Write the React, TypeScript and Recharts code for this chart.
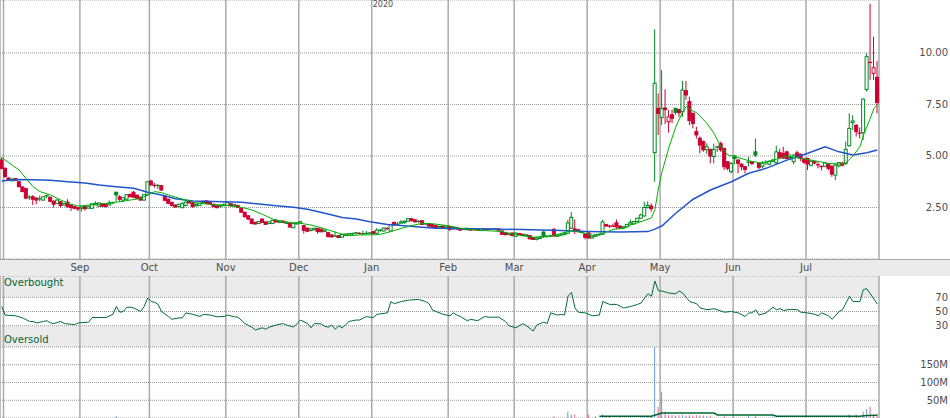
import React from 'react';
import { ComposedChart, Bar, Line, XAxis, YAxis, CartesianGrid, ReferenceLine } from 'recharts';

type Candle = [number, number, number, number]; // open, high, low, close

const jul2019: Candle[] = [[4.8, 4.92, 4.35, 4.4]];
const aug2019: Candle[] = [
  [4.4, 4.45, 3.95, 4.0], [3.93, 3.96, 3.8, 3.86], [3.8, 3.9, 3.76, 3.88], [3.9, 3.92, 3.78, 3.81],
  [3.75, 3.78, 3.48, 3.51], [3.5, 3.52, 3.25, 3.27], [3.42, 3.45, 2.9, 2.95], [2.98, 3.1, 2.86, 3.02],
  [3.02, 3.1, 2.62, 2.9], [2.96, 2.98, 2.66, 2.86], [2.9, 3.08, 2.8, 2.94], [2.86, 3.05, 2.84, 3.02],
  [3.1, 3.12, 2.95, 3.05], [3.0, 3.02, 2.76, 2.8], [2.8, 2.85, 2.5, 2.66], [2.7, 2.9, 2.68, 2.86],
  [2.78, 2.8, 2.5, 2.6], [2.62, 2.72, 2.6, 2.7], [2.76, 2.9, 2.5, 2.54], [2.62, 2.65, 2.33, 2.5],
  [2.54, 2.56, 2.42, 2.46], [2.49, 2.5, 2.33, 2.43],
];
const sep2019: Candle[] = [
  [2.46, 2.55, 2.3, 2.52], [2.55, 2.56, 2.35, 2.44], [2.47, 2.58, 2.45, 2.56], [2.46, 2.7, 2.44, 2.68],
  [2.64, 2.8, 2.6, 2.7], [2.56, 2.74, 2.54, 2.72], [2.68, 2.7, 2.55, 2.56], [2.66, 2.68, 2.5, 2.55],
  [2.62, 2.84, 2.6, 2.7], [2.74, 2.78, 2.66, 2.72], [3.24, 3.26, 2.78, 3.11], [3.02, 3.1, 2.78, 2.9],
  [2.86, 3.0, 2.75, 2.98], [2.9, 3.14, 2.88, 3.12], [3.14, 3.16, 3.0, 3.02], [3.24, 3.3, 2.98, 3.0],
  [3.1, 3.12, 2.9, 2.94], [3.0, 3.02, 2.84, 2.86], [2.86, 3.14, 2.84, 3.12], [3.11, 3.78, 3.05, 3.75],
];
const oct2019: Candle[] = [
  [3.78, 3.85, 3.55, 3.6], [3.6, 3.7, 3.45, 3.55], [3.55, 3.64, 3.4, 3.58], [3.56, 3.6, 3.3, 3.35],
  [3.05, 3.1, 2.8, 2.85], [2.9, 2.92, 2.68, 2.7], [2.75, 2.78, 2.55, 2.6], [2.62, 2.64, 2.5, 2.52],
  [2.55, 2.68, 2.5, 2.66], [2.49, 2.78, 2.47, 2.68], [2.6, 2.8, 2.55, 2.76], [2.82, 2.86, 2.7, 2.72],
  [2.72, 2.78, 2.49, 2.54], [2.58, 2.72, 2.56, 2.64], [2.6, 2.8, 2.58, 2.78], [2.74, 2.82, 2.7, 2.8],
  [2.82, 2.86, 2.66, 2.7], [2.76, 2.8, 2.62, 2.68], [2.66, 2.68, 2.52, 2.54], [2.58, 2.6, 2.46, 2.49],
  [2.54, 2.62, 2.5, 2.6], [2.6, 2.72, 2.55, 2.62],
];
const nov2019: Candle[] = [
  [2.6, 2.82, 2.58, 2.74], [2.68, 2.7, 2.55, 2.58], [2.58, 2.68, 2.56, 2.64], [2.6, 2.62, 2.48, 2.5],
  [2.46, 2.48, 2.25, 2.27], [2.27, 2.3, 2.0, 2.06], [2.1, 2.12, 1.9, 1.94], [1.94, 1.96, 1.68, 1.73],
  [1.78, 1.8, 1.66, 1.7], [1.72, 1.84, 1.7, 1.82], [1.94, 1.96, 1.76, 1.78], [1.8, 1.82, 1.66, 1.68],
  [1.72, 1.82, 1.7, 1.8], [1.72, 1.9, 1.7, 1.88], [1.88, 1.9, 1.78, 1.8], [1.78, 1.86, 1.74, 1.84],
  [1.84, 1.88, 1.76, 1.78], [1.72, 1.8, 1.7, 1.79], [1.72, 1.74, 1.52, 1.55], [1.52, 1.75, 1.5, 1.73],
  [1.7, 1.8, 1.68, 1.76],
];
const dec2019: Candle[] = [
  [1.74, 1.84, 1.72, 1.81], [1.62, 1.64, 1.23, 1.39], [1.5, 1.52, 1.3, 1.35], [1.38, 1.5, 1.34, 1.46],
  [1.42, 1.52, 1.38, 1.49], [1.49, 1.5, 1.23, 1.33], [1.45, 1.47, 1.3, 1.32], [1.34, 1.42, 1.3, 1.4],
  [1.29, 1.3, 1.04, 1.09], [1.17, 1.18, 1.05, 1.07], [1.1, 1.33, 1.07, 1.12], [1.13, 1.14, 1.02, 1.04],
  [1.06, 1.2, 1.04, 1.19], [1.15, 1.22, 1.1, 1.21], [1.16, 1.26, 1.13, 1.23], [1.2, 1.28, 1.15, 1.25],
  [1.28, 1.3, 1.18, 1.26], [1.26, 1.3, 1.2, 1.22], [1.2, 1.38, 1.18, 1.24], [1.22, 1.36, 1.2, 1.26],
  [1.24, 1.3, 1.2, 1.28],
];
const jan2020: Candle[] = [
  [1.33, 1.35, 1.2, 1.24], [1.25, 1.5, 1.2, 1.4], [1.38, 1.45, 1.3, 1.42], [1.36, 1.52, 1.34, 1.5],
  [1.5, 1.54, 1.4, 1.46], [1.36, 1.7, 1.34, 1.68], [1.78, 1.8, 1.64, 1.65], [1.68, 1.8, 1.64, 1.7],
  [1.74, 1.9, 1.72, 1.8], [1.76, 1.88, 1.72, 1.82], [1.84, 1.98, 1.82, 1.96], [1.96, 1.99, 1.82, 1.86],
  [1.9, 1.94, 1.78, 1.8], [1.8, 1.88, 1.76, 1.85], [1.86, 1.88, 1.65, 1.68], [1.68, 1.76, 1.64, 1.73],
  [1.72, 1.74, 1.56, 1.6], [1.68, 1.7, 1.5, 1.55], [1.62, 1.64, 1.45, 1.5], [1.52, 1.62, 1.5, 1.58],
  [1.6, 1.62, 1.5, 1.54], [1.52, 1.62, 1.48, 1.6],
];
const feb2020: Candle[] = [
  [1.58, 1.6, 1.36, 1.44], [1.46, 1.56, 1.44, 1.52], [1.52, 1.54, 1.42, 1.46], [1.48, 1.5, 1.38, 1.4],
  [1.42, 1.5, 1.4, 1.46], [1.42, 1.5, 1.4, 1.49], [1.48, 1.5, 1.38, 1.4], [1.4, 1.48, 1.38, 1.45],
  [1.46, 1.48, 1.36, 1.4], [1.38, 1.49, 1.36, 1.47], [1.44, 1.5, 1.42, 1.48], [1.47, 1.5, 1.38, 1.42],
  [1.42, 1.48, 1.4, 1.46], [1.44, 1.5, 1.4, 1.48], [1.46, 1.48, 1.38, 1.4], [1.36, 1.38, 1.18, 1.2],
  [1.28, 1.3, 1.14, 1.18], [1.18, 1.28, 1.16, 1.24], [1.26, 1.28, 1.1, 1.14],
];
const mar2020: Candle[] = [
  [1.1, 1.28, 1.08, 1.26], [1.24, 1.26, 1.16, 1.18], [1.2, 1.22, 1.1, 1.14], [1.12, 1.2, 1.1, 1.18],
  [1.14, 1.16, 0.95, 0.98], [1.04, 1.06, 0.92, 0.95], [0.95, 1.08, 0.9, 1.02], [1.0, 1.1, 0.96, 1.06],
  [1.31, 1.34, 1.02, 1.1], [1.08, 1.16, 1.04, 1.12], [1.1, 1.18, 1.06, 1.14], [1.44, 1.5, 1.06, 1.12],
  [1.1, 1.2, 1.08, 1.16], [1.14, 1.22, 1.12, 1.18], [1.18, 1.26, 1.16, 1.25], [1.25, 1.9, 1.2, 1.75],
  [1.5, 2.28, 1.45, 2.02], [1.46, 1.92, 1.2, 1.36], [1.42, 1.44, 1.3, 1.34], [1.34, 1.36, 1.26, 1.28],
  [1.21, 1.24, 0.95, 1.05],
];
const apr2020: Candle[] = [
  [1.26, 1.3, 0.98, 1.02], [1.02, 1.14, 1.0, 1.1], [1.1, 1.2, 1.08, 1.16], [1.16, 1.24, 1.12, 1.2],
  [1.2, 1.9, 1.18, 1.8], [1.68, 1.7, 1.56, 1.6], [1.62, 1.66, 1.5, 1.58], [1.62, 1.72, 1.56, 1.57],
  [1.76, 1.92, 1.44, 1.56], [1.6, 1.62, 1.45, 1.5], [1.5, 1.6, 1.48, 1.56], [1.56, 1.7, 1.54, 1.68],
  [1.7, 1.92, 1.66, 1.78], [1.7, 1.85, 1.68, 1.82], [1.82, 2.0, 1.8, 1.98], [1.98, 2.2, 1.95, 2.14],
  [2.09, 2.78, 2.05, 2.5], [2.5, 2.8, 2.45, 2.6], [2.57, 2.7, 2.3, 2.44], [5.16, 11.15, 3.75, 8.53],
  [7.31, 8.04, 6.02, 7.07],
];
const may2020: Candle[] = [
  [6.87, 9.17, 6.5, 7.31], [7.33, 8.23, 6.55, 7.25], [6.66, 7.23, 6.13, 6.9], [7.0, 7.25, 6.6, 6.83],
  [7.31, 7.35, 7.0, 7.12], [7.25, 7.3, 6.9, 7.1], [7.15, 8.64, 6.9, 8.2], [8.17, 8.64, 7.72, 7.96],
  [7.64, 7.88, 6.5, 6.72], [7.07, 7.1, 6.34, 6.58], [6.18, 6.42, 5.85, 6.02], [5.86, 5.95, 5.13, 5.53],
  [5.7, 5.75, 5.2, 5.3], [5.3, 5.62, 5.1, 5.45], [5.32, 5.36, 4.64, 5.0], [4.97, 5.6, 4.64, 5.32],
  [5.42, 5.5, 5.2, 5.45], [5.6, 5.7, 5.2, 5.3], [5.37, 5.4, 4.32, 4.48], [4.72, 4.75, 4.3, 4.4],
  [4.24, 4.7, 4.15, 4.64],
];
const jun2020: Candle[] = [
  [5.0, 5.05, 4.6, 4.88], [4.8, 4.85, 4.16, 4.64], [4.6, 4.65, 4.3, 4.48], [4.48, 4.5, 4.15, 4.35],
  [4.68, 4.96, 4.5, 4.72], [4.72, 4.75, 4.55, 4.64], [5.2, 5.85, 4.95, 5.05], [4.64, 4.7, 4.35, 4.45],
  [4.5, 4.75, 4.4, 4.66], [4.7, 4.8, 4.55, 4.68], [4.6, 4.8, 4.55, 4.74], [4.74, 4.85, 4.7, 4.8],
  [4.67, 5.5, 4.6, 5.2], [5.16, 5.35, 4.85, 4.93], [5.12, 5.45, 4.85, 4.9], [5.2, 5.25, 4.85, 4.87],
  [4.95, 5.1, 4.8, 4.9], [4.72, 5.1, 4.6, 5.04], [5.15, 5.25, 4.9, 4.97], [5.08, 5.12, 4.75, 4.88],
  [4.85, 4.9, 4.6, 4.7],
];
const jul2020: Candle[] = [
  [4.88, 4.92, 4.32, 4.61], [4.55, 4.8, 4.5, 4.75], [4.72, 4.76, 4.6, 4.66], [4.58, 4.72, 4.4, 4.56],
  [4.5, 4.55, 4.3, 4.47], [4.5, 4.7, 4.45, 4.66], [4.6, 4.65, 4.3, 4.4], [4.5, 4.55, 3.99, 4.12],
  [4.07, 4.62, 3.83, 4.56], [4.52, 4.7, 4.45, 4.68], [4.65, 4.72, 4.5, 4.55], [4.64, 5.7, 4.56, 5.32],
  [5.5, 7.07, 5.45, 6.34], [6.62, 6.98, 6.26, 6.7], [6.49, 6.55, 5.94, 6.18], [6.13, 6.38, 5.85, 6.08],
  [6.13, 7.8, 5.77, 7.76], [8.23, 9.98, 8.12, 9.82], [9.56, 12.38, 8.69, 9.52], [9.01, 10.79, 8.69, 9.28],
  [8.82, 9.61, 7.07, 7.59],
];

const months: { label: string; candles: Candle[] }[] = [
  { label: '', candles: jul2019 },
  { label: '', candles: aug2019 },
  { label: 'Sep', candles: sep2019 },
  { label: 'Oct', candles: oct2019 },
  { label: 'Nov', candles: nov2019 },
  { label: 'Dec', candles: dec2019 },
  { label: 'Jan', candles: jan2020 },
  { label: 'Feb', candles: feb2020 },
  { label: 'Mar', candles: mar2020 },
  { label: 'Apr', candles: apr2020 },
  { label: 'May', candles: may2020 },
  { label: 'Jun', candles: jun2020 },
  { label: 'Jul', candles: jul2020 },
];

const yearLabel = '2020';
const priceTicks = [2.5, 5, 7.5, 10];
const rsiTicks = [30, 50, 70];
const volumeTicks = [50, 100, 150];

// [trading-day index, value]
const shortMA: [number, number][] = [
  [0, 4.92], [3, 4.56], [5, 4.32], [7, 3.91], [9, 3.51], [11, 3.27], [14, 3.11], [17, 2.86], [20, 2.65],
  [22, 2.57], [25, 2.62], [28, 2.65], [31, 2.73], [34, 2.78], [37, 2.86], [40, 2.94], [42, 3.11], [44, 3.27],
  [46, 3.22], [48, 3.11], [50, 3.0], [53, 2.86], [56, 2.72], [60, 2.65], [64, 2.62], [69, 2.51], [72, 2.38],
  [75, 2.17], [78, 1.94], [81, 1.81], [84, 1.76], [86, 1.73], [89, 1.65], [92, 1.52], [94, 1.41], [97, 1.25],
  [100, 1.13], [103, 1.17], [107, 1.17], [109, 1.2], [112, 1.33], [115, 1.49], [118, 1.62], [121, 1.73],
  [124, 1.71], [127, 1.65], [130, 1.57], [132, 1.49], [135, 1.44], [138, 1.39], [141, 1.36], [144, 1.33],
  [147, 1.21], [150, 1.13], [153, 1.06], [157, 1.08], [161, 1.24], [164, 1.37], [167, 1.28], [170, 1.16],
  [173, 1.24], [176, 1.44], [179, 1.49], [181, 1.65], [184, 1.81], [187, 2.0], [188, 2.4], [189, 3.4],
  [190, 4.2], [192, 5.4], [194, 6.4], [196, 7.15], [197, 7.4], [198, 7.26], [200, 7.1], [203, 6.58],
  [205, 6.1], [207, 5.45], [209, 5.05], [211, 4.97], [215, 4.77], [219, 4.64], [223, 4.84], [226, 5.0],
  [230, 4.88], [234, 4.77], [238, 4.64], [242, 4.6], [243, 4.67], [245, 5.0], [247, 5.45], [248, 6.0],
  [250, 6.83], [251, 7.3], [252, 7.5],
];
const longMA: [number, number][] = [
  [0, 3.78], [4, 3.86], [9, 3.85], [14, 3.82], [19, 3.75], [24, 3.69], [28, 3.59], [33, 3.51], [38, 3.43],
  [42, 3.24], [46, 3.11], [50, 2.92], [55, 2.82], [64, 2.78], [69, 2.75], [74, 2.67], [79, 2.59], [84, 2.51],
  [88, 2.41], [93, 2.22], [98, 2.01], [102, 1.94], [106, 1.81], [111, 1.68], [115, 1.62], [121, 1.54],
  [125, 1.49], [131, 1.48], [140, 1.45], [150, 1.43], [155, 1.41], [159, 1.4], [168, 1.34], [178, 1.31],
  [186, 1.33], [188, 1.45], [190, 1.6], [194, 2.22], [199, 2.9], [204, 3.35], [210, 3.75], [215, 4.16],
  [220, 4.4], [226, 4.8], [232, 5.13], [237, 5.45], [241, 5.2], [245, 5.05], [249, 5.16], [252, 5.29],
];
const rsiPoints: [number, number][] = [
  [0, 57], [1, 45], [4, 44], [6, 41], [8, 36], [9, 36], [10, 34], [12, 36], [13, 37], [14, 34], [15, 33],
  [17, 36], [18, 33], [20, 32], [21, 31.5], [22, 34], [25, 35], [26, 41.5], [28, 41.5], [30, 41.5], [32, 46],
  [33, 57], [34, 49], [35, 50], [36, 56], [37, 56], [38, 55], [40, 50], [41, 57], [42, 69], [43, 64], [44, 63],
  [45, 60], [46, 50], [48, 43], [49, 39], [51, 41], [52, 41], [53, 48], [55, 46], [57, 43], [58, 46], [60, 45],
  [62, 42.5], [64, 43], [65, 45], [67, 42.5], [68, 42], [70, 33], [72, 28], [73, 24], [75, 27], [76, 25],
  [77, 28], [79, 31], [81, 33], [82, 31], [84, 28], [86, 38], [88, 33], [89, 27], [90, 33], [92, 32.5],
  [93, 29], [94, 28], [95, 31], [96, 25], [97, 30], [98, 27], [100, 36], [102, 38], [103, 38], [105, 43],
  [106, 42], [107, 41.5], [108, 46], [111, 48], [112, 64], [113, 61], [115, 64], [117, 66], [120, 67],
  [122, 64], [123, 61], [124, 52], [125, 50], [127, 46], [129, 44], [130, 48], [131, 45], [132, 43],
  [134, 37], [135, 39], [137, 37], [139, 43], [140, 42], [143, 42], [145, 36], [146, 30], [148, 27],
  [150, 33], [151, 30], [153, 22.5], [154, 31], [156, 35], [157, 33], [158, 48], [160, 45], [161, 46],
  [162, 45], [163, 72], [164, 77], [165, 55], [166, 49], [168, 48], [170, 44], [172, 45], [173, 64],
  [175, 60], [177, 60], [179, 55], [181, 57], [183, 60], [184, 62], [186, 75], [187, 71.5], [188, 93],
  [189, 79], [190, 79], [192, 76], [194, 75], [195, 79], [196, 76], [198, 64], [200, 61], [201, 55],
  [203, 52.5], [205, 54], [208, 49], [210, 50], [212, 48], [214, 43], [215, 48], [216, 48], [217, 52.5],
  [218, 45], [220, 48], [222, 56], [223, 52.5], [224, 54], [225, 51.5], [227, 53], [229, 52.5], [230, 49],
  [232, 48], [234, 46], [235, 44], [236, 48], [238, 44], [239, 39], [241, 50], [242, 52.5], [244, 71.5],
  [245, 64], [247, 64], [248, 81], [249, 82], [250, 75], [252, 60.6],
];
// volume in millions
const volumes: [number, number][] = [
  [33, 6], [159, 5], [163, 18], [164, 10], [165, 10], [169, 10], [171, 5], [173, 10], [174, 4], [175, 3],
  [178, 3], [181, 3], [184, 4], [185, 5], [186, 6], [187, 5], [188, 210], [189, 32], [190, 74], [191, 18],
  [192, 9], [193, 8], [194, 7], [195, 8], [196, 8], [197, 7], [198, 8], [199, 7], [200, 8], [201, 7],
  [202, 7], [203, 6], [204, 7], [208, 5], [215, 5], [217, 5], [222, 4], [244, 10], [246, 10], [248, 18],
  [249, 25], [250, 32], [251, 10], [252, 12],
];
const volumeMA: [number, number][] = [
  [172, 4.8], [187, 4.8], [190, 14], [205, 14], [206, 8.5], [222, 8.5], [223, 4.8], [247, 4.8], [249, 7], [252, 8],
];

// ---------- derived table ----------
const candles: Candle[] = months.flatMap((m) => m.candles);
const N = candles.length;
const sMap = new Map(shortMA);
const lMap = new Map(longMA);
const rMap = new Map(rsiPoints);
const vMap = new Map(volumes);
const vmMap = new Map(volumeMA);

const data = candles.map(([o, h, l, c], i) => ({
  i,
  o,
  h,
  l,
  c,
  range: [l, h],
  up: i > 0 && c >= candles[i - 1][3],
  maS: sMap.get(i) ?? null,
  maL: lMap.get(i) ?? null,
  rsi: rMap.get(i) ?? null,
  vol: vMap.get(i) ?? null,
  volMA: vmMap.get(i) ?? null,
}));

const boundaries: { value: number; label: string }[] = [];
{
  let start = 0;
  months.forEach((m, k) => {
    if (k > 0) boundaries.push({ value: start - 0.5, label: m.label });
    start += m.candles.length;
  });
}
const monthTicks = boundaries.map((b) => b.value);
const priceXTicks = [...monthTicks, N - 0.5];
const labelOf = new Map(boundaries.map((b) => [b.value, b.label] as [number, string]));
const janBoundary = boundaries.find((b) => b.label === 'Jan')!.value;
const xDomain: [number, number] = [-0.5, N - 0.5];

// ---------- styles ----------
const FONT = '"DejaVu Sans", Verdana, sans-serif';
const W = 950;
const AXIS_W = 71;
const BAND = '#ebebeb';
const RED = '#cc0033';
const GREEN = '#00881e';
const VOL_UP = '#6f9bd1';
const VOL_DOWN = '#e2688a';
const GRID_V = '#aaaaaa';
const GRID_H = '#999999';
const TEXT = '#4d4d4d';
const RSI_GREEN = '#006b3c';

const makeRightTick = (fmt: (v: number) => string) => (props: any) => (
  <text x={W - 2} y={props.y} textAnchor="end" dominantBaseline="central" fontSize={10} fontFamily={FONT} fill={TEXT}>
    {fmt(props.payload.value)}
  </text>
);

const CandleShape = (props: any) => {
  const { x, y, width, height, payload } = props;
  if (payload == null || x == null || y == null) return null;
  const { o, h, l, c, up } = payload;
  const cx = x + width / 2;
  const span = h - l;
  const py = (v: number) => (span > 0 ? y + ((h - v) / span) * height : y);
  const color = up ? GREEN : RED;
  const top = py(Math.max(o, c));
  const bot = py(Math.min(o, c));
  const hollow = c > o;
  return (
    <g>
      <line x1={cx} x2={cx} y1={y} y2={y + height} stroke={color} strokeWidth={1} />
      {bot - top < 1.2 ? (
        <line x1={cx - 2} x2={cx + 2} y1={(top + bot) / 2} y2={(top + bot) / 2} stroke={color} strokeWidth={1.3} />
      ) : (
        <rect x={cx - 1.5} y={top} width={3} height={bot - top} fill={hollow ? '#ffffff' : color} stroke={color} strokeWidth={1} />
      )}
    </g>
  );
};

const VolumeShape = (props: any) => {
  const { x, y, width, height, payload } = props;
  if (payload == null || !height || height <= 0) return null;
  return <rect x={x + width / 2 - 0.5} y={y} width={1} height={height} fill={payload.up ? VOL_UP : VOL_DOWN} />;
};

const margin = { top: 0, right: 0, bottom: 0, left: 0 };

export default function App() {
  return (
    <div style={{ position: 'absolute', left: 0, top: 0, width: W, height: 418, overflow: 'hidden', background: '#fff', fontFamily: FONT }}>
      {/* date label band */}
      <div style={{ position: 'absolute', left: 0, top: 259, width: W, height: 17, background: BAND, borderTop: '1px solid #aaaaaa', boxSizing: 'border-box' }} />

      {/* price panel */}
      <div style={{ position: 'absolute', left: 0, top: 0 }}>
        <ComposedChart width={W} height={276} data={data} margin={margin}>
          <CartesianGrid horizontal={false} stroke={GRID_V} strokeWidth={1.5} />
          <CartesianGrid vertical={false} stroke={GRID_H} strokeDasharray="1 1" />
          <XAxis
            dataKey="i"
            type="number"
            domain={xDomain}
            ticks={priceXTicks}
            interval={0}
            height={17}
            axisLine={false}
            tickLine={false}
            tickSize={0}
            tickMargin={5}
            allowDataOverflow
            tickFormatter={(v: number) => labelOf.get(v) ?? ''}
            tick={{ fontSize: 10, fill: TEXT, fontFamily: FONT }}
          />
          <YAxis
            orientation="right"
            width={AXIS_W}
            domain={[0, 12.57]}
            ticks={priceTicks}
            interval={0}
            axisLine={false}
            tickLine={false}
            allowDataOverflow
            tick={makeRightTick((v) => v.toFixed(2))}
          />
          <ReferenceLine
            x={janBoundary}
            stroke="none"
            label={{ value: yearLabel, position: 'insideTopLeft', offset: 1, fontSize: 8, fill: TEXT, fontFamily: FONT }}
          />
          <Line dataKey="maL" stroke="#2255cc" strokeWidth={1.5} dot={false} activeDot={false} connectNulls isAnimationActive={false} />
          <Line dataKey="maS" stroke="#00b000" strokeWidth={1} dot={false} activeDot={false} connectNulls isAnimationActive={false} />
          <Bar dataKey="range" barSize={3} shape={CandleShape} isAnimationActive={false} />
        </ComposedChart>
      </div>

      {/* RSI panel */}
      <div style={{ position: 'absolute', left: 0, top: 276 }}>
        <ComposedChart width={W} height={71} data={data} margin={margin}>
          <CartesianGrid
            vertical={false}
            stroke={GRID_H}
            strokeDasharray="1 1"
            horizontalFill={[BAND, 'transparent', 'transparent', BAND]}
          />
          <CartesianGrid horizontal={false} stroke={GRID_V} strokeWidth={1.5} />
          <XAxis dataKey="i" type="number" domain={xDomain} ticks={monthTicks} interval={0} hide allowDataOverflow />
          <YAxis
            orientation="right"
            width={AXIS_W}
            domain={[0, 100]}
            ticks={rsiTicks}
            interval={0}
            axisLine={false}
            tickLine={false}
            tick={makeRightTick((v) => String(v))}
          />
          <Line dataKey="rsi" stroke={RSI_GREEN} strokeWidth={1} dot={false} activeDot={false} connectNulls isAnimationActive={false} />
        </ComposedChart>
      </div>
      <div style={{ position: 'absolute', left: 4, top: 277, fontSize: 10, lineHeight: '12px', color: '#006633', fontFamily: FONT }}>Overbought</div>
      <div style={{ position: 'absolute', left: 4, top: 334, fontSize: 10, lineHeight: '12px', color: '#006633', fontFamily: FONT }}>Oversold</div>

      {/* volume panel */}
      <div style={{ position: 'absolute', left: 0, top: 347 }}>
        <ComposedChart width={W} height={71} data={data} margin={margin}>
          <CartesianGrid vertical={false} stroke={GRID_H} strokeDasharray="1 1" />
          <CartesianGrid horizontal={false} stroke={GRID_V} strokeWidth={1.5} />
          <XAxis dataKey="i" type="number" domain={xDomain} ticks={monthTicks} interval={0} hide allowDataOverflow />
          <YAxis
            orientation="right"
            width={AXIS_W}
            domain={[0, 200]}
            ticks={volumeTicks}
            interval={0}
            axisLine={false}
            tickLine={false}
            allowDataOverflow
            tick={makeRightTick((v) => `${v}M`)}
          />
          <Bar dataKey="vol" barSize={1} shape={VolumeShape} isAnimationActive={false} />
          <Line dataKey="volMA" stroke="#006633" strokeWidth={1.5} dot={false} activeDot={false} connectNulls isAnimationActive={false} />
        </ComposedChart>
      </div>
    </div>
  );
}
